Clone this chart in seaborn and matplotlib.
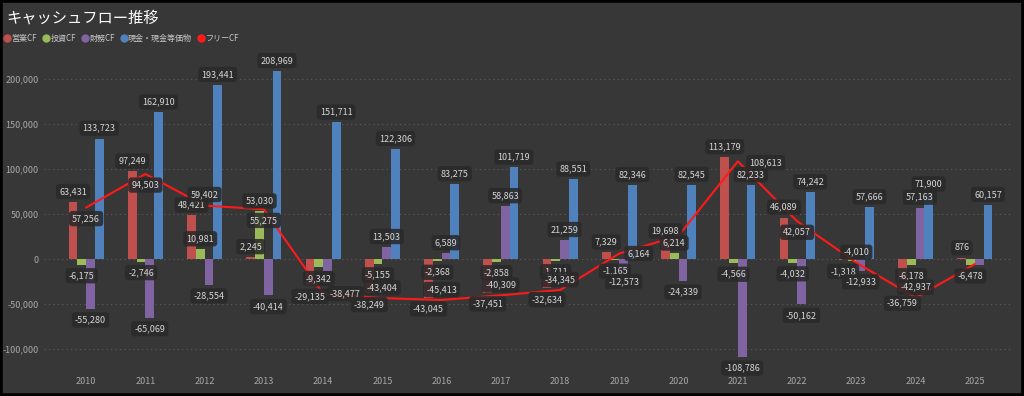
import numpy as np
import pandas as pd
import matplotlib
matplotlib.use("Agg")
import matplotlib.pyplot as plt
from matplotlib.lines import Line2D
from matplotlib.patches import Rectangle
from matplotlib.ticker import FuncFormatter
import seaborn as sns

# ---- data ----
years = [str(y) for y in range(2010, 2026)]
operating_cf = [63431, 97249, 48421, 2245, -29135, -38249, -43045, -37451,
                -32634, 7329, 19698, 113179, 46089, -1318, -36759, 876]
investing_cf = [-6175, -2746, 10981, 53030, -9342, -5155, -2368, -2858,
                -1711, -1165, 6214, -4566, -4032, -2692, -6178, -6478]
financing_cf = [-55280, -65069, -28554, -40414, -13700, 13503, 6589, 58863,
                21259, -12573, -24339, -108786, -50162, -12933, 57163, -6300]
cash = [133723, 162910, 193441, 208969, 151711, 122306, 83275, 101719,
        88551, 82346, 82545, 82233, 74242, 57666, 71900, 60157]
free_cf = [57256, 94503, 59402, 55275, -38477, -43404, -45413, -40309,
           -34345, 6164, 25912, 108613, 42057, -4010, -42937, -5602]

series_names = ["営業CF", "投資CF", "財務CF", "現金・現金等価物"]
series_colors = ["#C0504D", "#9BBB59", "#8064A2", "#4F81BD"]
free_name = "フリーCF"
free_color = "#FF1A1A"

# labels that the original hides because of overlap
hidden = {("2014", "財務CF"), ("2023", "投資CF"), ("2025", "財務CF")}
hidden_free = {"2020", "2025"}
# a few line labels sit beside the point instead of above/below
free_offsets = {"2012": (0, 8), "2014": (16, 0), "2019": (14, 0), "2021": (20, -1)}

bg = "#373737"
txt = "#a8a8a8"

sns.set_theme(style="dark")
plt.rcParams["font.family"] = ["Noto Sans CJK JP", "DejaVu Sans"]

df = pd.DataFrame({
    "year": years * 4,
    "series": np.repeat(series_names, len(years)),
    "value": operating_cf + investing_cf + financing_cf + cash,
})
values = dict(zip(series_names, [operating_cf, investing_cf, financing_cf, cash]))

fig = plt.figure(figsize=(10.24, 3.96), dpi=100, facecolor=bg)
ax = fig.add_axes([0.043, 0.073, 0.946, 0.773])
ax.set_facecolor(bg)

sns.barplot(data=df, x="year", y="value", hue="series", order=years,
            hue_order=series_names, palette=series_colors, width=0.59, gap=0,
            saturation=1, errorbar=None, legend=False, linewidth=0, ax=ax)

sns.lineplot(x=np.arange(len(years)), y=free_cf, color=free_color,
             linewidth=1.5, ax=ax, zorder=4)

box = dict(boxstyle="round,pad=0.35,rounding_size=0.35", fc="#2a2a2a",
           ec="none", alpha=0.88)
lab_kw = dict(textcoords="offset points", ha="center", va="center",
              fontsize=6.5, color="#d6d6d6", bbox=box, zorder=6)

for name, cont in zip(series_names, ax.containers):
    for year, bar, v in zip(years, cont, values[name]):
        if (year, name) in hidden:
            continue
        xc = bar.get_x() + bar.get_width() / 2
        dy = 7.5 if v >= 0 else -8
        ax.annotate(f"{v:,}", (xc, v), xytext=(0, dy), **lab_kw)

for i, (year, v) in enumerate(zip(years, free_cf)):
    if year in hidden_free:
        continue
    off = free_offsets.get(year, (0, -8) if v > 0 else (0, 7.5))
    ax.annotate(f"{v:,}", (i, v), xytext=off, **lab_kw)

ax.set_xlim(-0.71, len(years) - 0.36)
ax.set_ylim(-120000, 220000)
ax.set_yticks(range(-100000, 200001, 50000))
ax.yaxis.set_major_formatter(FuncFormatter(lambda x, p: f"{x:,.0f}"))
ax.set_xlabel("")
ax.set_ylabel("")
ax.grid(False)
ax.yaxis.grid(True, linestyle=(0, (1, 3)), color="#5c5c5c", linewidth=0.8)
ax.set_axisbelow(True)
ax.tick_params(axis="both", length=0, colors=txt, labelsize=6.5)
ax.tick_params(axis="y", pad=4)
ax.tick_params(axis="x", pad=7)
for s in ax.spines.values():
    s.set_visible(False)

fig.text(0.006, 0.955, "キャッシュフロー推移", color="white", fontsize=11,
         va="center", ha="left")

handles = [Line2D([], [], marker="o", ls="", color=c, markersize=5)
           for c in series_colors + [free_color]]
fig.legend(handles, series_names + [free_name], loc="center left",
           bbox_to_anchor=(0.0, 0.904), ncol=5, frameon=False, fontsize=5.8,
           handletextpad=0.05, columnspacing=0.6, handlelength=1.0,
           labelcolor="#c8c8c8", borderaxespad=0.2, borderpad=0.2)

fig.patches.append(Rectangle((0, 0), 1, 1, transform=fig.transFigure,
                             fill=False, ec="black", lw=4, zorder=10))

fig.savefig("out.png", dpi=100, facecolor=bg)
